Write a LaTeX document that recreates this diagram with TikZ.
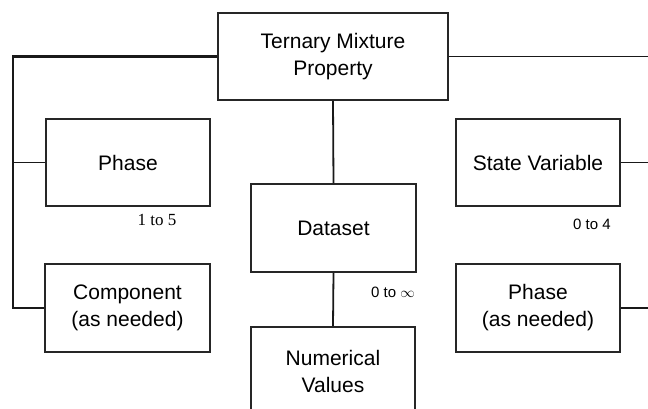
\documentclass[tikz,border=0pt]{standalone}
\usepackage{fontspec}
\setmainfont{Liberation Serif}
\setsansfont{Liberation Sans}
\begin{document}
\begin{tikzpicture}[x=1pt,y=-1pt,
  box/.style={draw=black!85, line width=1.6pt, fill=white, align=center, inner sep=0pt,
    font=\sffamily\fontsize{21}{27}\selectfont},
  conn/.style={draw=black!90, line width=1.8pt},
  card/.style={font=\fontsize{17}{18}\selectfont, inner sep=0pt},
  cardsf/.style={font=\sffamily\fontsize{15}{18}\selectfont, inner sep=0pt}]
\useasboundingbox (0,0) rectangle (648,409);
\clip (0,0) rectangle (648,409);
\fill[white] (0,0) rectangle (648,409);
% nodes
\node[box, minimum width=230pt, minimum height=87pt] (top) at (333,56.5) {Ternary Mixture\\Property};
\node[box, minimum width=164pt, minimum height=87pt] (phase) at (128,162.5) {Phase};
\node[box, minimum width=164pt, minimum height=87pt] (state) at (538,162.5) {State Variable};
\node[box, minimum width=165pt, minimum height=88pt] (data) at (333.5,228) {Dataset};
\node[box, minimum width=165pt, minimum height=88pt] (comp) at (127.5,308) {Component\\(as needed)};
\node[box, minimum width=164pt, minimum height=88pt] (phase2) at (538,308) {Phase\\(as needed)};
\node[box, minimum width=164pt, minimum height=88pt] (num) at (333,371) {Numerical\\Values};
% coordinates
\coordinate (lc) at (13,56.5);
\coordinate (lb) at (13,308);
\coordinate (lm) at (13,162.5);
\coordinate (rt) at (650,56.5);
\coordinate (rm) at (650,162.5);
\coordinate (rb) at (650,308);
% connectors
\draw[conn, line width=2.8pt, line join=miter] (top.west) -- (lc) -- (lb) -- (comp.west);
\draw[conn] (phase.west) -- (lm);
\draw[conn] (top.east) -- (rt);
\draw[conn] (state.east) -- (rm);
\draw[conn] (phase2.east) -- (rb);
\draw[conn] (top.south) -- (data.north);
\draw[conn] (data.south) -- (num.north);
% cardinalities
\node[card] (c1) at (157,220) {1 to 5};
\node[cardsf] (c2) at (592,224) {0 to 4};
\node[cardsf] (c3) at (393,292) {0 to $\infty$};
\end{tikzpicture}
\end{document}
